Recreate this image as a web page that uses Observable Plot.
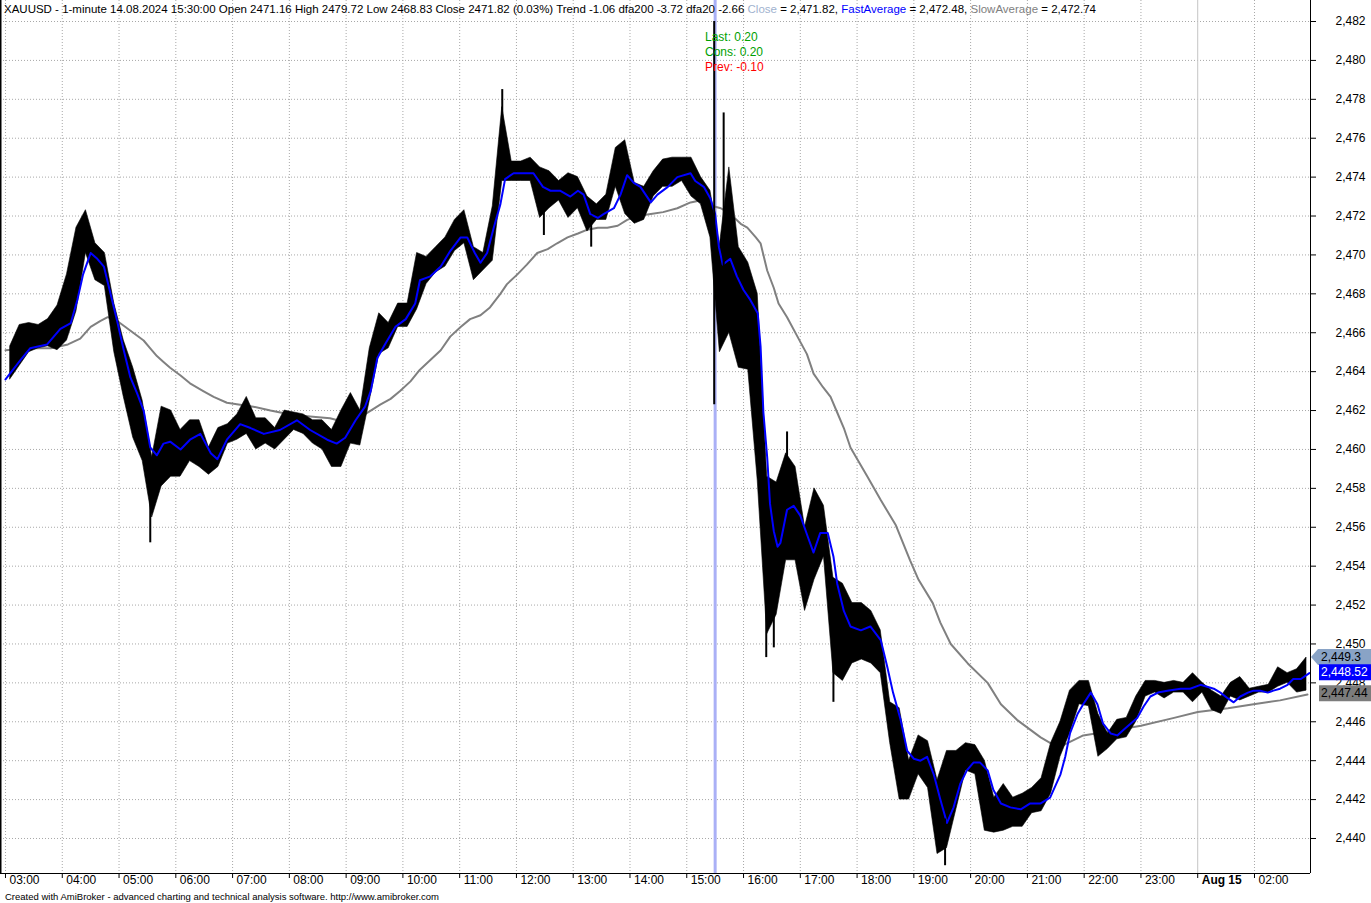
<!DOCTYPE html>
<html><head><meta charset="utf-8">
<script src="https://cdn.jsdelivr.net/npm/d3@7"></script>
<script src="https://cdn.jsdelivr.net/npm/@observablehq/plot@0.6"></script>
<style>
body{margin:0;background:#fff;font-family:Arial,"Liberation Sans",sans-serif;}
#wrap{position:relative;width:1371px;height:903px;overflow:hidden;background:#fff;}
#chart svg{display:block;}
#hdr{position:absolute;left:4px;top:2px;font-size:11.5px;line-height:14px;white-space:nowrap;color:#000;}
.ann{position:absolute;left:705px;font-size:12px;line-height:14px;white-space:nowrap;}
#credit{position:absolute;left:5px;top:891px;font-size:9.5px;line-height:11px;white-space:nowrap;color:#000;}
</style></head><body>
<div id="wrap">
<div id="chart"></div>
<div id="hdr">XAUUSD - 1-minute 14.08.2024 15:30:00 Open 2471.16 High 2479.72 Low 2468.83 Close 2471.82 (0.03%) Trend -1.06 dfa200 -3.72 dfa20 -2.66 <span style="color:#9fb2cf">Close</span> = 2,471.82, <span style="color:#0000ff">FastAverage</span> = 2,472.48, <span style="color:#808080">SlowAverage</span> = 2,472.74</div>
<div class="ann" style="top:30px;color:#00a000">Last: 0.20</div>
<div class="ann" style="top:45px;color:#00a000">Cons: 0.20</div>
<div class="ann" style="top:60px;color:#ff0000">Prev: -0.10</div>
<div id="credit">Created with AmiBroker - advanced charting and technical analysis software. http://www.amibroker.com</div>
</div>
<script>
// ---- time axis (bar minutes counted from 03:00; the 00:00 hour is absent) ----
const hourMinutes = [0,60,120,180,240,300,360,420,480,540,600,660,720,780,840,900,960,1020,1080,1140,1200,1260,1320];
const hourLabels = ["03:00","04:00","05:00","06:00","07:00","08:00","09:00","10:00","11:00","12:00","13:00","14:00","15:00","16:00","17:00","18:00","19:00","20:00","21:00","22:00","23:00","Aug 15","02:00"];
const dayBoundaryLabel = "Aug 15";
const selectedMinute = 750; // 15:30

// ---- price axis ticks ----
const priceTicks = [2440,2442,2444,2446,2448,2450,2452,2454,2456,2458,2460,2462,2464,2466,2468,2470,2472,2474,2476,2478,2480,2482];

// ---- price ranges per 10-minute block (high / low) ----
const binMinutes = 10;
const binHigh = [2465.3,2466.4,2466.5,2466.4,2466.7,2467.4,2469.0,2471.4,2472.3,2470.6,
2470.1,2467.5,2465.6,2464.2,2462.5,2459.6,2462.2,2462.0,2461.0,2461.5,
2461.5,2460.1,2461.1,2461.3,2461.8,2462.7,2461.6,2461.6,2461.1,2462.0,
2461.9,2461.8,2461.5,2461.5,2461.0,2462.0,2462.9,2462.0,2465.2,2467.0,
2466.5,2467.5,2467.5,2470.1,2469.9,2470.4,2470.9,2471.8,2472.3,2470.4,
2470.1,2472.5,2477.6,2474.8,2474.8,2475.0,2474.5,2474.3,2473.8,2474.2,
2474.0,2473.0,2472.6,2473.1,2475.5,2475.9,2473.7,2473.5,2474.3,2474.9,
2475.0,2475.0,2475.0,2474.0,2473.3,2470.5,2474.5,2470.4,2469.6,2468.0,
2458.6,2458.3,2459.8,2459.1,2456.0,2458.0,2457.1,2453.4,2453.1,2452.1,
2452.1,2451.7,2450.7,2447.0,2446.7,2444.0,2445.3,2445.0,2443.0,2444.5,
2444.5,2444.9,2444.8,2444.0,2442.1,2442.8,2442.1,2442.3,2442.6,2443.1,
2444.9,2446.0,2447.6,2448.1,2448.1,2446.4,2445.4,2446.1,2446.2,2447.3,
2448.1,2448.1,2448.0,2448.1,2448.0,2448.5,2448.0,2447.6,2447.3,2448.0,
2448.3,2447.7,2447.8,2447.9,2448.8,2448.5,2448.7,2449.3];
const binLow = [2463.6,2464.3,2465.0,2465.2,2465.3,2465.1,2465.6,2467.1,2470.1,2468.7,
2468.4,2465.0,2462.7,2460.6,2459.4,2456.5,2458.1,2458.6,2458.6,2459.4,
2459.1,2458.7,2459.1,2460.3,2460.5,2460.8,2460.0,2460.3,2460.0,2460.5,
2461.0,2460.8,2460.3,2460.0,2459.1,2459.1,2460.3,2460.2,2462.5,2464.9,
2465.2,2466.3,2466.3,2467.2,2468.5,2469.1,2469.4,2470.2,2470.6,2468.7,
2469.2,2469.7,2473.8,2473.8,2473.8,2473.8,2471.9,2472.4,2472.8,2471.9,
2472.4,2471.2,2471.8,2471.8,2473.5,2472.1,2471.6,2471.8,2473.0,2473.5,
2473.5,2473.8,2473.0,2472.6,2470.9,2465.0,2466.0,2464.2,2464.1,2458.4,
2450.5,2451.5,2454.3,2454.3,2451.7,2453.3,2454.5,2448.5,2448.1,2449.0,
2449.2,2449.0,2448.5,2444.9,2442.0,2442.0,2443.3,2442.6,2439.2,2439.5,
2441.5,2443.5,2443.3,2440.4,2440.3,2440.4,2440.6,2440.6,2441.3,2441.4,
2442.3,2444.2,2445.4,2446.9,2446.8,2444.2,2444.6,2445.1,2445.2,2446.0,
2447.3,2447.5,2447.2,2447.5,2447.5,2447.0,2447.5,2446.6,2446.4,2447.3,
2447.1,2447.3,2447.5,2447.5,2447.8,2448.0,2447.5,2447.6];

// ---- isolated spikes (wicks) ----
const wickMinute = [153,525,569,619,749,759,804,812,826,875,993];
const wickHigh   = [2457.5,2478.5,2473.0,2472.0,2482.0,2477.3,2453.0,2454.0,2460.9,2450.0,2441.0];
const wickLow    = [2455.2,2475.5,2471.0,2470.4,2462.3,2469.0,2449.3,2449.8,2457.0,2447.0,2438.6];

// ---- FastAverage (blue) ----
const fastMinute = [0,16,26,44,58,69,76,82,90,97,104,111,118,125,132,139,146,153,160,167,174,185,195,206,217,224,234,248,259,273,290,308,322,340,350,359,370,380,386,393,401,412,423,433,438,449,460,470,481,488,496,502,509,516,523,528,537,547,558,568,576,586,597,605,611,618,626,632,643,650,657,664,671,682,689,700,710,724,729,738,745,750,754,758,766,773,780,787,795,798,801,805,808,812,816,819,826,833,840,848,854,861,869,875,879,886,893,904,914,925,932,938,946,953,960,967,974,981,988,995,1002,1009,1016,1023,1030,1038,1044,1052,1062,1073,1083,1094,1104,1115,1120,1125,1133,1139,1147,1154,1160,1168,1175,1182,1189,1196,1203,1210,1218,1228,1242,1252,1263,1270,1277,1284,1292,1298,1305,1313,1319,1326,1334,1340,1347,1355,1361,1369,1378];
const fastValue = [2463.6,2464.6,2465.2,2465.4,2466.2,2466.5,2467.7,2469.0,2470.1,2469.8,2469.4,2468.0,2466.6,2465.1,2463.7,2462.9,2462.0,2460.1,2459.7,2460.3,2460.4,2460.0,2460.5,2460.8,2459.8,2459.5,2460.5,2461.3,2461.1,2460.8,2461.0,2461.5,2461.0,2460.5,2460.3,2460.6,2461.5,2462.2,2463.0,2464.7,2465.4,2466.3,2466.7,2467.5,2468.7,2468.9,2469.4,2470.2,2470.9,2470.9,2470.1,2469.6,2470.1,2471.4,2472.6,2473.9,2474.2,2474.2,2474.2,2473.5,2473.3,2473.3,2473.0,2473.3,2473.1,2472.1,2471.9,2472.1,2472.4,2473.1,2474.1,2473.7,2473.5,2472.7,2473.1,2473.5,2474.0,2474.2,2473.8,2473.5,2472.9,2472.1,2470.4,2469.5,2469.8,2468.9,2468.2,2467.7,2467.0,2465.3,2461.9,2459.6,2457.2,2455.8,2455.0,2455.2,2456.9,2457.1,2456.6,2455.5,2454.7,2455.7,2455.7,2454.5,2453.1,2451.7,2450.9,2450.7,2450.9,2450.2,2448.8,2447.5,2446.1,2444.5,2444.1,2444.0,2444.2,2443.3,2442.0,2440.8,2441.6,2442.8,2443.5,2443.9,2443.9,2443.5,2442.5,2441.8,2441.6,2441.5,2441.8,2441.8,2442.1,2443.3,2444.2,2445.4,2446.4,2446.9,2447.5,2446.9,2445.9,2445.4,2445.3,2445.6,2445.9,2446.2,2446.8,2447.3,2447.5,2447.6,2447.7,2447.7,2447.9,2447.8,2447.7,2447.5,2447.2,2447.0,2447.3,2447.5,2447.6,2447.6,2447.5,2447.6,2447.7,2447.9,2448.2,2448.2,2448.5];

// ---- SlowAverage (grey) ----
const slowMinute = [0,26,48,66,79,90,100,108,114,121,135,146,153,160,167,174,185,195,209,220,234,248,262,280,301,322,343,359,370,386,396,407,417,428,438,449,460,470,481,491,502,512,523,530,541,551,562,573,583,594,605,615,626,636,647,657,668,682,695,710,724,734,742,748,756,766,777,784,793,798,805,812,817,826,837,847,854,864,872,879,886,893,911,925,941,956,965,980,988,999,1017,1038,1052,1069,1094,1108,1118,1139,1165,1200,1235,1260,1292,1319,1347,1376];
const slowValue = [2465.1,2465.2,2465.2,2465.4,2465.7,2466.3,2466.6,2466.8,2466.7,2466.5,2466.0,2465.6,2465.2,2464.8,2464.5,2464.2,2463.8,2463.4,2463.0,2462.7,2462.4,2462.3,2462.2,2462.0,2461.8,2461.7,2461.6,2461.4,2461.5,2462.0,2462.3,2462.6,2463.0,2463.5,2464.1,2464.6,2465.1,2465.8,2466.3,2466.7,2466.9,2467.3,2468.0,2468.5,2469.0,2469.5,2470.1,2470.3,2470.6,2470.9,2471.1,2471.3,2471.4,2471.4,2471.5,2471.8,2472.0,2472.1,2472.2,2472.4,2472.7,2472.8,2472.7,2472.5,2472.4,2472.1,2471.6,2471.4,2470.9,2470.6,2469.2,2468.3,2467.5,2466.8,2465.8,2464.9,2463.9,2463.2,2462.7,2461.9,2461.1,2460.1,2458.6,2457.4,2456.1,2454.3,2453.3,2452.1,2451.1,2450.0,2449.0,2448.0,2446.9,2446.1,2445.2,2444.8,2444.8,2445.3,2445.5,2445.8,2446.2,2446.5,2446.7,2446.9,2447.1,2447.4];

// ---- right-edge value labels ----
const lastClose = 2449.3, lastFast = 2448.52, lastSlow = 2447.44;

// ---------- build ----------
const bins = binHigh.map((h, i) => ({m: i * binMinutes + binMinutes / 2, hi: h, lo: binLow[i]}));
const wicks = wickMinute.map((m, i) => ({m, hi: wickHigh[i], lo: wickLow[i]}));
const fast = fastMinute.map((m, i) => ({m, v: fastValue[i]}));
const slow = slowMinute.map((m, i) => ({m, v: slowValue[i]}));
const hours = hourMinutes.map((m, i) => ({m, label: hourLabels[i]}));
const dayM = hours.find(d => d.label === dayBoundaryLabel).m;

const xDomain = [-5.28, 1379.2];
const yDomain = [2438.2, 2483.08];
const grid = {stroke: "#a8a8a8", strokeDasharray: "1,2", strokeWidth: 1};

const chart = Plot.plot({
  width: 1371, height: 903,
  marginLeft: 0, marginRight: 61, marginTop: 0, marginBottom: 30,
  x: {type: "linear", domain: xDomain, axis: null, label: null},
  y: {domain: yDomain, axis: null, label: null},
  style: {fontFamily: "Arial, 'Liberation Sans', sans-serif", fontSize: "12px", background: "white", overflow: "visible", color: "#000"},
  marks: [
    Plot.ruleY(priceTicks, {...grid}),
    Plot.ruleX(hours.filter(d => d.m !== dayM), {x: "m", ...grid}),
    Plot.ruleX([dayM], {stroke: "#c4c4c4", strokeWidth: 1}),
    Plot.ruleX([selectedMinute], {stroke: "#aab0f6", strokeWidth: 3}),
    Plot.line(slow, {x: "m", y: "v", stroke: "#808080", strokeWidth: 2}),
    Plot.areaY(bins, {x: "m", y1: "lo", y2: "hi", fill: "#000", stroke: "#000", strokeWidth: 0.6}),
    Plot.line(fast, {x: "m", y: "v", stroke: "#0000ff", strokeWidth: 2}),
    Plot.ruleX(wicks, {x: "m", y1: "lo", y2: "hi", stroke: "#000", strokeWidth: 2}),
    Plot.ruleX([xDomain[1]], {stroke: "#000", strokeWidth: 1}),
    Plot.ruleX([xDomain[0]], {stroke: "#000", strokeWidth: 2}),
    Plot.ruleY([yDomain[0]], {stroke: "#000", strokeWidth: 1}),
    Plot.axisY(priceTicks, {anchor: "right", tickSize: 5, tickPadding: 20, tickFormat: d3.format(","), stroke: "#000", label: null}),
    Plot.axisX(hourMinutes, {anchor: "bottom", tickSize: 5, tickFormat: () => "", stroke: "#000", label: null}),
    Plot.text(hours.filter(d => d.m !== dayM), {x: "m", text: "label", frameAnchor: "bottom", dy: 10, dx: 4, textAnchor: "start", fill: "#000"}),
    Plot.text(hours.filter(d => d.m === dayM), {x: "m", text: "label", frameAnchor: "bottom", dy: 10, dx: 4, textAnchor: "start", fill: "#000", fontWeight: "bold"})
  ]
});
document.getElementById("chart").appendChild(chart);

// value tags on the right edge, placed with the chart's own y scale
const ys = chart.scale("y");
const g = d3.select(chart).append("g")
  .attr("font-size", 12)
  .attr("font-family", "Arial, 'Liberation Sans', sans-serif")
  .attr("text-anchor", "start");
const tags = [
  {v: lastClose, text: "2,449.3", bg: "#89a3c6", fg: "#000", arrow: true},
  {v: lastFast, text: "2,448.52", bg: "#0000ff", fg: "#fff", arrow: false},
  {v: lastSlow, text: "2,447.44", bg: "#7c7c7c", fg: "#000", arrow: false}
];
for (const t of tags) {
  const yc = ys.apply(t.v);
  const pts = t.arrow
    ? [[1311, yc], [1318, yc - 8], [1371, yc - 8], [1371, yc + 8], [1318, yc + 8]]
    : [[1319, yc - 8], [1371, yc - 8], [1371, yc + 8], [1319, yc + 8]];
  g.append("polygon").attr("points", pts.map(p => p.join(",")).join(" ")).attr("fill", t.bg);
  g.append("text").attr("x", 1321).attr("y", yc).attr("dy", "0.35em").attr("fill", t.fg).attr("text-anchor", "start").text(t.text);
}
</script>
</body></html>
